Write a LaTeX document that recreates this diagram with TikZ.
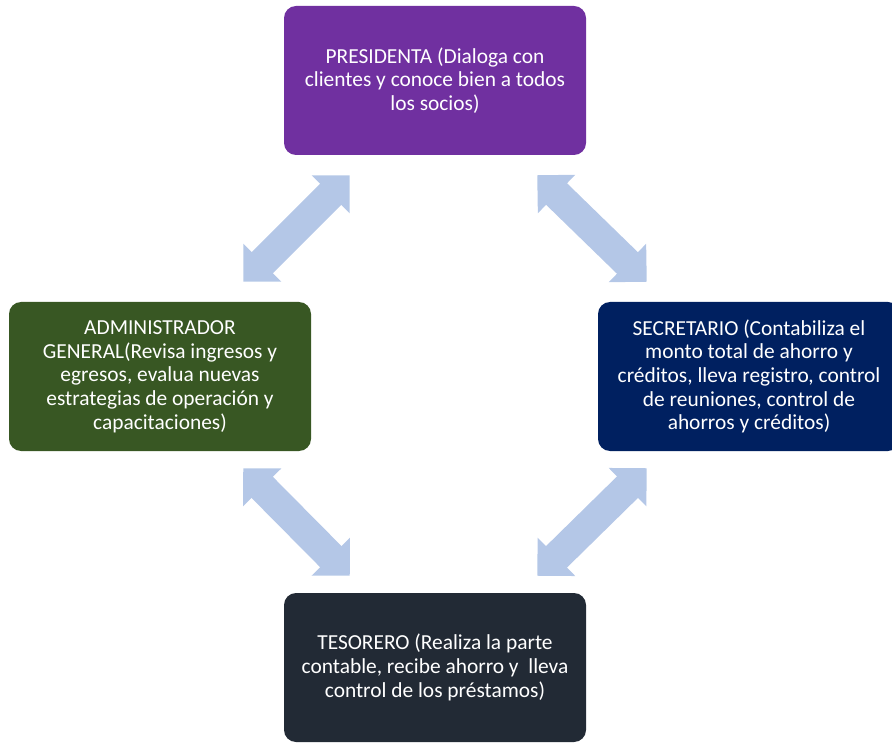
\documentclass[tikz,border=0pt]{standalone}
\usepackage{fontspec}
\setmainfont{Carlito}
\usetikzlibrary{arrows.meta}
\definecolor{cpres}{HTML}{7030A0}
\definecolor{cadmin}{HTML}{385723}
\definecolor{csecr}{HTML}{002060}
\definecolor{ctes}{HTML}{222A35}
\definecolor{carrow}{HTML}{B4C7E7}
\tikzset{
  cargo/.style={draw=none, fill=#1, rounded corners=12pt, text=white,
    minimum width=302pt, minimum height=149pt, align=center,
    font=\fontsize{21.4}{23.7}\selectfont},
  flecha/.style={carrow, line width=30pt,
    {Triangle[length=27pt,width=52pt]}-{Triangle[length=27pt,width=52pt]}}
}

\begin{document}
\begin{tikzpicture}[x=1pt,y=-1pt]
        \useasboundingbox (0,0) rectangle (892,743);

        \node[cargo=cpres] (pres) at (435,80.5) {PRESIDENTA (Dialoga con\\
          clientes y conoce bien a todos\\ los socios)};
        \node[cargo=cadmin] (admin) at (160,376.5) {ADMINISTRADOR\\
          GENERAL(Revisa ingresos y\\ egresos, evalua nuevas\\
          estrategias de operaci\'on y\\ capacitaciones)};
        \node[cargo=csecr] (secr) at (749,376.5) {SECRETARIO (Contabiliza el\\
          monto total de ahorro y\\ cr\'editos, lleva registro, control\\
          de reuniones, control de\\ ahorros y cr\'editos)};
        \node[cargo=ctes] (tes) at (435,667.5) {TESORERO (Realiza la parte\\
          contable, recibe ahorro y \ lleva\\ control de los pr\'estamos)};

        % puntas de las flechas
        \coordinate (p1) at ([shift={(66,20)}]pres.south west);
        \coordinate (a1) at ([shift={(-68,-20)}]admin.north east);
        \coordinate (p2) at ([shift={(-49,20)}]pres.south east);
        \coordinate (s1) at ([shift={(49,-20)}]secr.north west);
        \coordinate (a2) at ([shift={(-68,17)}]admin.south east);
        \coordinate (t1) at ([shift={(66,-17)}]tes.north west);
        \coordinate (s2) at ([shift={(49,17)}]secr.south west);
        \coordinate (t2) at ([shift={(-49,-17)}]tes.north east);

        \draw[flecha] (a1) -- (p1);
        \draw[flecha] (p2) -- (s1);
        \draw[flecha] (a2) -- (t1);
        \draw[flecha] (s2) -- (t2);
\end{tikzpicture}
\end{document}
